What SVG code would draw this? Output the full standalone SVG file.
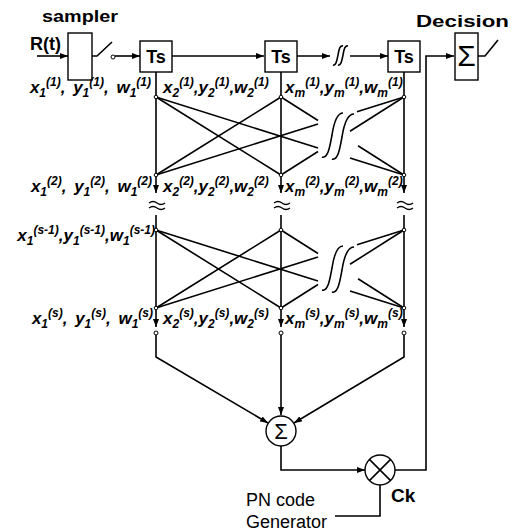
<svg xmlns="http://www.w3.org/2000/svg" width="512" height="532" viewBox="0 0 512 532">
<defs>
<marker id="ah" viewBox="0 0 8 6" refX="8" refY="3" markerWidth="8" markerHeight="6" markerUnits="userSpaceOnUse" orient="auto"><path d="M0,0 L8,3 L0,6 z" fill="#000"/></marker>
</defs>
<style>
.ln{stroke:#000;stroke-width:1.6;fill:none}
.bx{fill:#fff;stroke:#000;stroke-width:1.4}
.nd{fill:#fff;stroke:#000;stroke-width:1}
.lb{font-family:"Liberation Sans",Arial,sans-serif;font-weight:bold;font-style:italic;font-size:17px;fill:#000}
.ws{word-spacing:3px}
.s{font-size:12px}
.t{font-family:"Liberation Sans",Arial,sans-serif;font-weight:bold;fill:#000}
.r{font-family:"Liberation Sans",Arial,sans-serif;fill:#000}
</style>
<rect width="512" height="532" fill="#fff"/>

<g id="connectors" class="ln">
<path d="M37,56 H68" marker-end="url(#ah)"/>
<path d="M92,56 H97 L112,42"/>
<path d="M115,56 H140" marker-end="url(#ah)"/>
<path d="M172,56 H264" marker-end="url(#ah)"/>
<path d="M297,56 H330" marker-end="url(#ah)"/>
<path d="M350,56 H388" marker-end="url(#ah)"/>
<path d="M333,65 C336,66 337,60 338,55 C339,49 340,45 343,46"/>
<path d="M338,65 C341,66 342,60 343,55 C344,49 345,45 348,46"/>

<path d="M156,72 V193" marker-end="url(#ah)"/>
<path d="M156,215 V327" marker-end="url(#ah)"/>
<path d="M156,335 V357 L268,423" marker-end="url(#ah)"/>
<path d="M281,72 V193" marker-end="url(#ah)"/>
<path d="M281,215 V327" marker-end="url(#ah)"/>
<path d="M281,335 V415" marker-end="url(#ah)"/>
<path d="M404,72 V193" marker-end="url(#ah)"/>
<path d="M404,215 V327" marker-end="url(#ah)"/>
<path d="M404,335 V357 L294,423" marker-end="url(#ah)"/>

<g id="mesh1">
<path d="M156,97 L281,175"/>
<path d="M281,97 L156,175"/>
<path d="M156,97 L318,148"/>
<path d="M281,97 L318,120.5"/>
<path d="M156,175 L318,124"/>
<path d="M281,175 L318,151.5"/>
<path d="M404,97 L357,111.8"/>
<path d="M404,97 L350,131.3"/>
<path d="M358,145.8 L404,175"/>
<path d="M350,158 L404,175"/>
<path d="M322,157 C328,159 330,146 332,135 C334,122 337,113 343,113"/>
<path d="M332,159 C338,161 340,148 342,137 C344,124 347,114 354,114"/>
</g>
<g id="mesh2" transform="translate(0,133)">
<path d="M156,97 L281,175"/>
<path d="M281,97 L156,175"/>
<path d="M156,97 L318,148"/>
<path d="M281,97 L318,120.5"/>
<path d="M156,175 L318,124"/>
<path d="M281,175 L318,151.5"/>
<path d="M404,97 L357,111.8"/>
<path d="M404,97 L350,131.3"/>
<path d="M358,145.8 L404,175"/>
<path d="M350,158 L404,175"/>
<path d="M322,157 C328,159 330,146 332,135 C334,122 337,113 343,113"/>
<path d="M332,159 C338,161 340,148 342,137 C344,124 347,114 354,114"/>
</g>

<path d="M149,203 q4,-3 8,0 t8,0 M149,208 q4,-3 8,0 t8,0" stroke-width="1.3"/>
<path d="M274,203 q4,-3 8,0 t8,0 M274,208 q4,-3 8,0 t8,0" stroke-width="1.3"/>
<path d="M397,203 q4,-3 8,0 t8,0 M397,208 q4,-3 8,0 t8,0" stroke-width="1.3"/>

<path d="M281,446 V470 H365" marker-end="url(#ah)"/>
<path d="M335,516 H380 V485"/>
<path d="M395,470 H426 V56 H454" marker-end="url(#ah)"/>
<path d="M478,56 H485 L498,40"/>
</g>

<g id="dots">
<circle class="nd" cx="113" cy="57" r="2"/>
<circle class="nd" cx="156" cy="97" r="1.8"/><circle class="nd" cx="281" cy="97" r="1.8"/><circle class="nd" cx="404" cy="97" r="1.8"/>
<circle class="nd" cx="156" cy="175" r="1.8"/><circle class="nd" cx="281" cy="175" r="1.8"/><circle class="nd" cx="404" cy="175" r="1.8"/>
<circle class="nd" cx="156" cy="230" r="1.8"/><circle class="nd" cx="281" cy="230" r="1.8"/><circle class="nd" cx="404" cy="230" r="1.8"/>
<circle class="nd" cx="156" cy="308" r="1.8"/><circle class="nd" cx="281" cy="308" r="1.8"/><circle class="nd" cx="404" cy="308" r="1.8"/>
<circle class="nd" cx="156" cy="333" r="2"/><circle class="nd" cx="281" cy="333" r="2"/><circle class="nd" cx="404" cy="333" r="2"/>
</g>

<g id="sampler">
<rect class="bx" x="68" y="33" width="24" height="47"/>
<text class="t" x="42" y="22" font-size="16" textLength="76" lengthAdjust="spacingAndGlyphs">sampler</text>
<text class="t" x="30" y="50" font-size="18">R(t)</text>
</g>
<g id="ts1"><rect class="bx" x="140" y="41" width="32" height="31"/><text class="t" x="156" y="63" font-size="18" text-anchor="middle">Ts</text></g>
<g id="ts2"><rect class="bx" x="265" y="41" width="32" height="31"/><text class="t" x="281" y="63" font-size="18" text-anchor="middle">Ts</text></g>
<g id="ts3"><rect class="bx" x="388" y="41" width="32" height="31"/><text class="t" x="404" y="63" font-size="18" text-anchor="middle">Ts</text></g>
<g id="decision">
<rect class="bx" x="455" y="33" width="23" height="47"/>
<text class="r" x="466.5" y="66" font-size="30" text-anchor="middle">Σ</text>
<text class="t" x="416" y="27" font-size="17" textLength="93" lengthAdjust="spacingAndGlyphs">Decision</text>
</g>
<g id="sum">
<circle class="bx" cx="281" cy="431" r="15"/>
<text class="r" x="281" y="439" font-size="22" text-anchor="middle">Σ</text>
</g>
<g id="mult">
<circle class="bx" cx="380" cy="470" r="15"/>
<path class="ln" d="M369.4,459.4 L390.6,480.6 M390.6,459.4 L369.4,480.6" stroke-width="1.3"/>
<text class="t" x="391" y="502" font-size="19">Ck</text>
</g>
<g id="pn">
<text class="r" x="246" y="506" font-size="18">PN code</text>
<text class="r" x="246" y="528" font-size="18">Generator</text>
</g>

<g id="labels">
<text class="lb ws" x="151" y="93" text-anchor="end">x<tspan class="s" dy="4">1</tspan><tspan class="s" dy="-11">(1)</tspan><tspan dy="7">, y</tspan><tspan class="s" dy="4">1</tspan><tspan class="s" dy="-11">(1)</tspan><tspan dy="7">, w</tspan><tspan class="s" dy="4">1</tspan><tspan class="s" dy="-11">(1)</tspan></text>
<text class="lb" x="163" y="93">x<tspan class="s" dy="4">2</tspan><tspan class="s" dy="-11">(1)</tspan><tspan dy="7">,y</tspan><tspan class="s" dy="4">2</tspan><tspan class="s" dy="-11">(1)</tspan><tspan dy="7">,w</tspan><tspan class="s" dy="4">2</tspan><tspan class="s" dy="-11">(1)</tspan></text>
<text class="lb" x="285" y="93">x<tspan class="s" dy="4">m</tspan><tspan class="s" dy="-11">(1)</tspan><tspan dy="7">,y</tspan><tspan class="s" dy="4">m</tspan><tspan class="s" dy="-11">(1)</tspan><tspan dy="7">,w</tspan><tspan class="s" dy="4">m</tspan><tspan class="s" dy="-11">(1)</tspan></text>

<text class="lb ws" x="152" y="192" text-anchor="end">x<tspan class="s" dy="4">1</tspan><tspan class="s" dy="-11">(2)</tspan><tspan dy="7">, y</tspan><tspan class="s" dy="4">1</tspan><tspan class="s" dy="-11">(2)</tspan><tspan dy="7">, w</tspan><tspan class="s" dy="4">1</tspan><tspan class="s" dy="-11">(2)</tspan></text>
<text class="lb" x="163" y="192">x<tspan class="s" dy="4">2</tspan><tspan class="s" dy="-11">(2)</tspan><tspan dy="7">,y</tspan><tspan class="s" dy="4">2</tspan><tspan class="s" dy="-11">(2)</tspan><tspan dy="7">,w</tspan><tspan class="s" dy="4">2</tspan><tspan class="s" dy="-11">(2)</tspan></text>
<text class="lb" x="285" y="192">x<tspan class="s" dy="4">m</tspan><tspan class="s" dy="-11">(2)</tspan><tspan dy="7">,y</tspan><tspan class="s" dy="4">m</tspan><tspan class="s" dy="-11">(2)</tspan><tspan dy="7">,w</tspan><tspan class="s" dy="4">m</tspan><tspan class="s" dy="-11">(2)</tspan></text>

<text class="lb" x="155" y="241" text-anchor="end" font-size="17.5">x<tspan class="s" dy="4">1</tspan><tspan class="s" dy="-11">(s-1)</tspan><tspan dy="7">,y</tspan><tspan class="s" dy="4">1</tspan><tspan class="s" dy="-11">(s-1)</tspan><tspan dy="7">,w</tspan><tspan class="s" dy="4">1</tspan><tspan class="s" dy="-11">(s-1)</tspan></text>

<text class="lb ws" x="153" y="324" text-anchor="end">x<tspan class="s" dy="4">1</tspan><tspan class="s" dy="-11">(s)</tspan><tspan dy="7">, y</tspan><tspan class="s" dy="4">1</tspan><tspan class="s" dy="-11">(s)</tspan><tspan dy="7">, w</tspan><tspan class="s" dy="4">1</tspan><tspan class="s" dy="-11">(s)</tspan></text>
<text class="lb" x="163" y="324">x<tspan class="s" dy="4">2</tspan><tspan class="s" dy="-11">(s)</tspan><tspan dy="7">,y</tspan><tspan class="s" dy="4">2</tspan><tspan class="s" dy="-11">(s)</tspan><tspan dy="7">,w</tspan><tspan class="s" dy="4">2</tspan><tspan class="s" dy="-11">(s)</tspan></text>
<text class="lb" x="285" y="324">x<tspan class="s" dy="4">m</tspan><tspan class="s" dy="-11">(s)</tspan><tspan dy="7">,y</tspan><tspan class="s" dy="4">m</tspan><tspan class="s" dy="-11">(s)</tspan><tspan dy="7">,w</tspan><tspan class="s" dy="4">m</tspan><tspan class="s" dy="-11">(s)</tspan></text>
</g>
</svg>
